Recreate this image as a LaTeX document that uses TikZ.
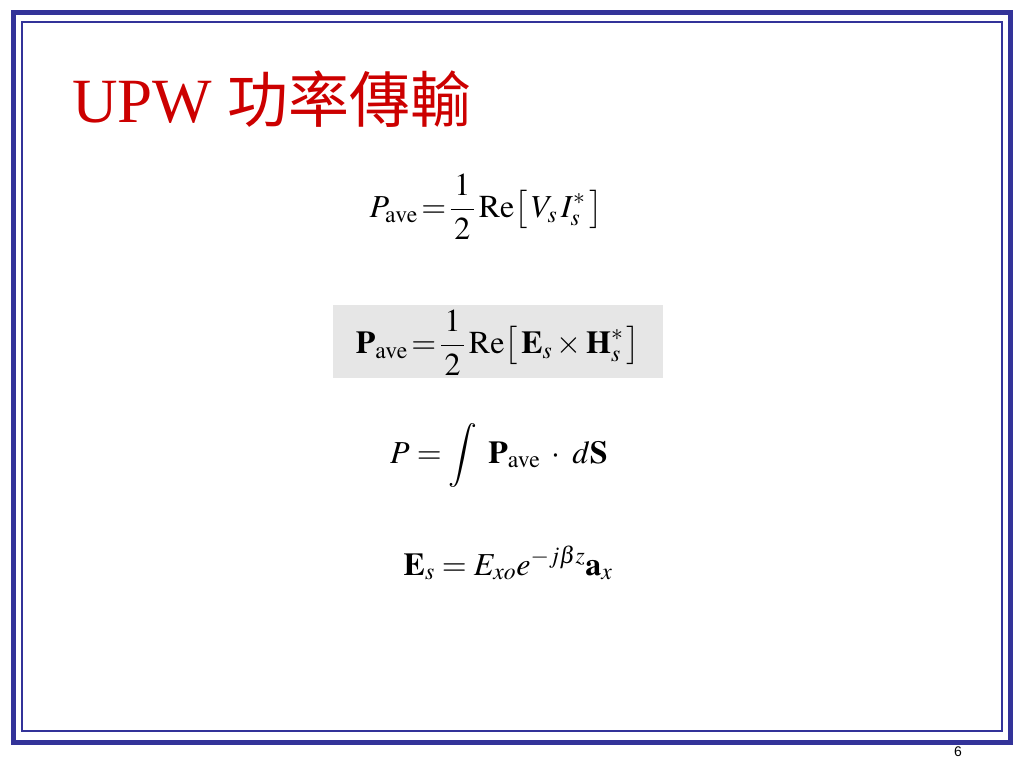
\documentclass[tikz,border=0pt]{standalone}
\usepackage{mathptmx}
\usepackage{fontspec}
\setmainfont{Liberation Serif}
\newfontfamily\cjk{Noto Sans CJK TC}
\newfontfamily\pagefont{Liberation Sans}
\definecolor{slideblue}{RGB}{51,51,153}
\definecolor{titlered}{RGB}{204,0,0}
\definecolor{boxgray}{RGB}{230,230,230}
\tikzset{eqn/.style={font=\fontsize{32}{38}\selectfont,inner sep=0pt}}
\begin{document}
\begin{tikzpicture}[x=1pt,y=-1pt]
 \useasboundingbox (0,0) rectangle (1024,768);
 \draw[slideblue,line width=5pt](13.5,12.5) rectangle (1010.5,742.5);
 \draw[slideblue,line width=1.2pt](22,22) rectangle (1002,731);
 \node[anchor=base west,inner sep=0pt,text=titlered,font=\fontsize{63}{70}\selectfont] (title) at (72,122) {UPW {\cjk\fontsize{61}{70}\selectfont 功率傳輸}};
 \fill[boxgray](333,305) rectangle (663,378);
 \node[eqn] (pv) at (486,207) {$\displaystyle P_{\mathrm{ave}}\!=\!\frac{\,1\,}{\,2\,}\,\mathrm{Re}\bigl[\,V_s\,I_s^*\,\bigr]$};
 \node[eqn] (pvec) at (498,343) {$\displaystyle \mathbf{P}_{\mathrm{ave}}\!=\!\frac{\,1\,}{\,2\,}\,\mathrm{Re}\bigl[\,\mathbf{E}_s\times\mathbf{H}_s^*\,\bigr]$};
 \node[eqn] (ptot) at (499,455) {$\displaystyle P=\int\;\mathbf{P}_{\mathrm{ave}}\;\cdot\;d\mathbf{S}$};
 \node[eqn] (es) at (508,563) {$\mathbf{E}_s=E_{xo}e^{-j\beta z}\mathbf{a}_x$};
 \node[font=\pagefont\fontsize{14}{16}\selectfont,inner sep=0pt] (pg) at (958,752) {6};
\end{tikzpicture}
\end{document}
